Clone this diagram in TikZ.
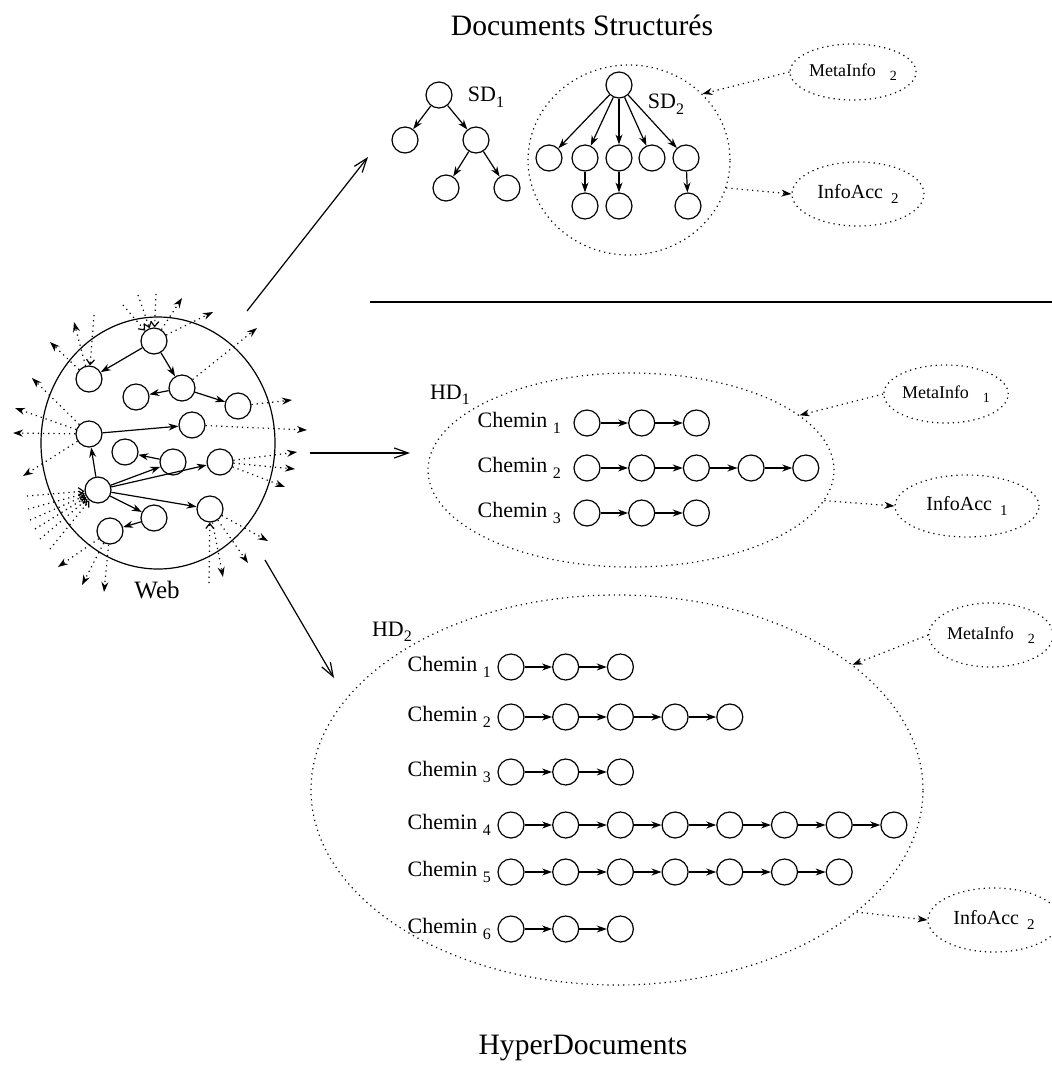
\documentclass[tikz,border=0pt]{standalone}
\usepackage{fontspec}
\setmainfont{Liberation Serif}
\usetikzlibrary{arrows.meta, positioning, shapes.geometric}
\newcommand{\subidx}[2][8]{\raisebox{-0.55ex}{\fontsize{#1}{#1}\selectfont #2}}

\begin{document}
\begin{tikzpicture}[
  x=0.5pt, y=-0.5pt, line width=0.6pt,
  pnode/.style={draw, circle, minimum size=13pt, inner sep=0pt},
  link/.style={-{Stealth[length=5pt,width=3.5pt]}},
  outlink/.style={dotted, -{Stealth[length=5pt,width=3.5pt]}},
  inlink/.style={dotted, -{Straight Barb[length=2.5pt,width=4pt]}},
  bigarrow/.style={-{Straight Barb[length=7pt,width=5pt]}},
  group/.style={draw, dotted, ellipse, inner sep=0pt},
  meta/.style={group, font=\fontsize{9}{11}\selectfont},
  acc/.style={group, font=\fontsize{10}{12}\selectfont},
  lbl/.style={font=\fontsize{11}{13}\selectfont, inner sep=0pt},
  heading/.style={font=\fontsize{14.8}{17}\selectfont},
  every node/.style={inner sep=2pt}
]
\useasboundingbox (0,0) rectangle (1052,1073);

% Titles
\node[heading] (title) at (582,25) {Documents Structurés};
\node[heading] (bottomtitle) at (583,1048) {HyperDocuments};
\draw (370,302) -- (1052,302);

% The web
\node[draw, ellipse, minimum width=117pt, minimum height=126pt, inner sep=0pt] (web) at (158,443) {};
\node[font=\fontsize{12.5}{14}\selectfont] (weblab) at (157,590) {Web};
\node[pnode] (w1) at (154,341) {};
\node[pnode] (w2) at (89,379) {};
\node[pnode] (w3) at (182,388) {};
\node[pnode] (w4) at (136,397) {};
\node[pnode] (w5) at (238,406) {};
\node[pnode] (w6) at (89,434) {};
\node[pnode] (w7) at (192,425) {};
\node[pnode] (w8) at (125,452) {};
\node[pnode] (w9) at (173,462) {};
\node[pnode] (w10) at (220,462) {};
\node[pnode] (w11) at (98,490) {};
\node[pnode] (w12) at (154,518) {};
\node[pnode] (w13) at (210,509) {};
\node[pnode] (w14) at (110,531) {};

\draw[link] (w1) -- (w2);
\draw[link] (w1) -- (w3);
\draw[link] (w3) -- (w4);
\draw[link] (w3) -- (w5);
\draw[link] (w6) -- (w7);
\draw[link] (w11) -- (w6);
\draw[link] (w9) -- (w8);
\draw[link] (w11) -- (w9);
\draw[link] (w11) -- (w10);
\draw[link] (w11) -- (w12);
\draw[link] (w11) -- (w13);
\draw[link] (w12) -- (w14);

% Links leaving the web
\foreach \src/\tx/\ty [count=\k] in {w1/182/298, w1/213/312, w2/74/322, w2/50/342,
    w3/257/328, w5/292/400, w6/32/378, w6/15/408, w6/13/433, w6/23/476, w7/307/430,
    w10/297/452, w10/295/469, w10/285/487, w14/58/567, w14/82/585, w14/104/592,
    w13/223/577, w13/248/563, w13/268/541} {
  \coordinate (out\k) at (\tx,\ty);
  \draw[outlink] (\src) -- (out\k);
}
% Links coming into the web
\foreach \dst/\sx/\sy [count=\k] in {w1/123/305, w1/138/295, w1/156/294, w2/94/315,
    w13/209/583, w11/27/496, w11/28/509, w11/30/520, w11/35/529, w11/40/539, w11/50/549} {
  \coordinate (in\k) at (\sx,\sy);
  \draw[inlink] (in\k) -- (\dst);
}

% Arrows from the web
\coordinate (fromWebA) at (247,311);
\coordinate (toSD) at (368,157);
\coordinate (fromWebB) at (310,453);
\coordinate (toHDa) at (410,453);
\coordinate (fromWebC) at (265,560);
\coordinate (toHDb) at (334,678);
\draw[bigarrow] (fromWebA) -- (toSD);
\draw[bigarrow] (fromWebB) -- (toHDa);
\draw[bigarrow] (fromWebC) -- (toHDb);

% First structured document
\node[pnode] (sd1r) at (439,95) {};
\node[pnode] (sd1a) at (405,140) {};
\node[pnode] (sd1b) at (476,140) {};
\node[pnode] (sd1c) at (446,188) {};
\node[pnode] (sd1d) at (507,188) {};
\node[lbl] (sd1lab) at (486,97) {SD\subidx{1}};
\draw[link] (sd1r) -- (sd1a);
\draw[link] (sd1r) -- (sd1b);
\draw[link] (sd1b) -- (sd1c);
\draw[link] (sd1b) -- (sd1d);

% Second structured document
\node[group, minimum width=101pt, minimum height=95pt] (sd2grp) at (629,160) {};
\node[pnode] (sd2r) at (619,85) {};
\node[lbl] (sd2lab) at (666,104) {SD\subidx{2}};
\node[pnode] (sd2a) at (549,158) {};
\node[pnode] (sd2b) at (585,158) {};
\node[pnode] (sd2c) at (619,158) {};
\node[pnode] (sd2d) at (652,158) {};
\node[pnode] (sd2e) at (686,158) {};
\node[pnode] (sd2f) at (585,206) {};
\node[pnode] (sd2g) at (619,206) {};
\node[pnode] (sd2h) at (688,206) {};
\foreach \c in {a,b,c,d,e}
  \draw[link] (sd2r) -- (sd2\c);
\draw[link] (sd2b) -- (sd2f);
\draw[link] (sd2c) -- (sd2g);
\draw[link] (sd2e) -- (sd2h);

\node[meta, minimum width=63pt, minimum height=28pt] (meta2) at (853,72) {MetaInfo\hspace{7pt}\subidx[7]{2}};
\node[acc, minimum width=66pt, minimum height=32pt] (info2) at (858,194) {InfoAcc\hspace{4pt}\subidx[7.5]{2}};
\draw[outlink] (meta2.west) -- (sd2grp.42);
\draw[outlink] (sd2grp.-16) -- (info2.west);

% First hyperdocument
\node[group, minimum width=203pt, minimum height=97pt] (hd1) at (631,470) {};
\node[lbl] (hd1lab) at (450,395) {HD\subidx{1}};
\foreach \r/\yy/\n in {1/423/3, 2/468/5, 3/513/3} {
  \node[pnode] (a\r-1) at (587,\yy) {};
  \foreach \k [remember=\k as \p (initially 1)] in {2,...,\n} {
    \node[pnode, right=13.75pt of a\r-\p] (a\r-\k) {};
    \draw[link] (a\r-\p) -- (a\r-\k);
  }
  \node[lbl, left=6pt of a\r-1] (hdlab\r) {Chemin \subidx{\r}};
}
\node[meta, minimum width=61pt, minimum height=29pt] (meta1) at (946,394) {MetaInfo\hspace{7pt}\subidx[7]{1}};
\node[acc, minimum width=72pt, minimum height=31pt] (info1) at (967,506) {InfoAcc\hspace{4pt}\subidx[7.5]{1}};
\draw[outlink] (meta1.west) -- (hd1.18);
\draw[outlink] (hd1.-9) -- (info1.west);

% Second hyperdocument
\node[group, minimum width=306pt, minimum height=195pt] (hd2) at (617,790) {};
\node[lbl] (hd2lab) at (392,632) {HD\subidx{2}};
\foreach \r/\yy/\n in {1/667/3, 2/717/5, 3/772/3, 4/825/8, 5/872/7, 6/929/3} {
  \node[pnode] (b\r-1) at (511,\yy) {};
  \foreach \k [remember=\k as \p (initially 1)] in {2,...,\n} {
    \node[pnode, right=13.75pt of b\r-\p] (b\r-\k) {};
    \draw[link] (b\r-\p) -- (b\r-\k);
  }
  \node[lbl, left=3pt of b\r-1] (hdtwolab\r) {Chemin \subidx{\r}};
}
\node[meta, minimum width=62pt, minimum height=32pt] (meta3) at (991,635) {MetaInfo\hspace{7pt}\subidx[7]{2}};
\node[acc, minimum width=66pt, minimum height=32pt] (info3) at (994,920) {InfoAcc\hspace{4pt}\subidx[7.5]{2}};
\draw[outlink] (meta3.west) -- (hd2.28);
\draw[outlink] (hd2.-27) -- (info3.west);

\end{tikzpicture}
\end{document}
